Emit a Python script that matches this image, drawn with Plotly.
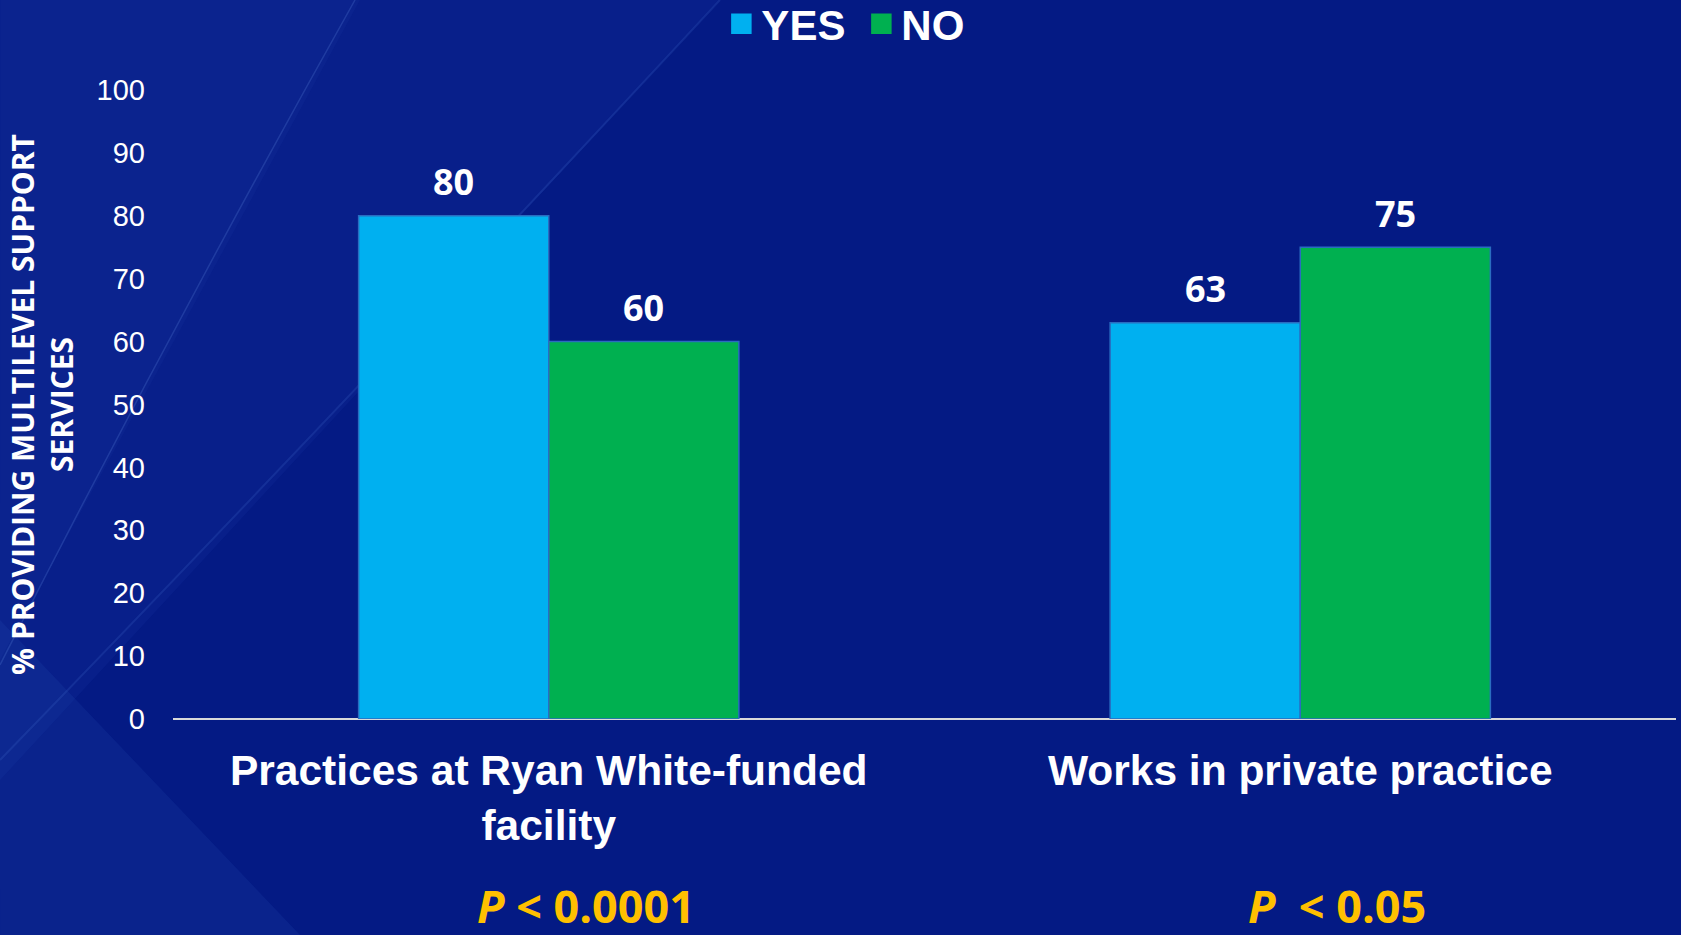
import plotly.graph_objects as go

# ---------------- data ----------------
categories = ["Practices at Ryan White-funded<br>facility", "Works in private practice"]
series_names = ["YES", "NO"]
yes_values = [80, 63]
no_values = [60, 75]
p_labels = ["<i>P</i> < 0.0001", "<i>P</i>&nbsp; < 0.05"]
y_tick_values = [0, 10, 20, 30, 40, 50, 60, 70, 80, 90, 100]
y_title = "% PROVIDING MULTILEVEL SUPPORT<br>SERVICES"

# ---------------- style ----------------
W, H = 1681, 935
M_L, M_R, M_T, M_B = 173, 5, 90, 216
PW, PH = W - M_L - M_R, H - M_T - M_B
colors = {"YES": "#00B0F0", "NO": "#00B050"}
BAR_GAP = 0.494
BG = "#041A84"

fig = go.Figure()
series_values = {"YES": yes_values, "NO": no_values}
for name in series_names:
    fig.add_trace(go.Bar(
        x=categories, y=series_values[name], name=name,
        marker=dict(color=colors[name], line=dict(color="#2A6CC0", width=1.5)),
        showlegend=False, hoverinfo="x+y+name",
    ))
    # legend proxy (square markers)
    fig.add_trace(go.Scatter(
        x=[None], y=[None], mode="markers", name=name,
        marker=dict(symbol="square", size=16, color=colors[name],
                    line=dict(color=colors[name], width=4.5)),
        showlegend=True,
    ))

# data labels positioned through the axes (offset to each bar of the group)
band_px = PW / len(categories)
bar_px = band_px * (1 - BAR_GAP) / len(series_names)
annotations = []
for si, name in enumerate(series_names):
    off = (si - (len(series_names) - 1) / 2) * bar_px
    for ci, cat in enumerate(categories):
        v = series_values[name][ci]
        annotations.append(dict(
            x=cat, y=v, xref="x", yref="y", text=f"<b>{v}</b>", showarrow=False,
            xshift=off, yshift=34, yanchor="middle",
            font=dict(family="Open Sans", size=36, color="white"),
        ))

# p-value annotations under each category
for ci, cat in enumerate(categories):
    annotations.append(dict(
        x=cat, y=-0.297, xref="x", yref="paper", text=f"<b>{p_labels[ci]}</b>",
        showarrow=False, xshift=37, yanchor="middle",
        font=dict(family="Open Sans", size=45, color="#FFC000"),
    ))

def px_to_paper(px, py):
    return (px - M_L) / PW, (M_T + PH - py) / PH

shapes = []
def poly(points, color):
    pts = [px_to_paper(*p) for p in points]
    path = "M " + " L ".join(f"{x:.4f},{y:.4f}" for x, y in pts) + " Z"
    shapes.append(dict(type="path", path=path, xref="paper", yref="paper",
                       fillcolor=color, line=dict(width=0), layer="below"))

def curve(points, color, width):
    pts = [px_to_paper(*p) for p in points]
    path = f"M {pts[0][0]:.4f},{pts[0][1]:.4f} Q {pts[1][0]:.4f},{pts[1][1]:.4f} {pts[2][0]:.4f},{pts[2][1]:.4f}"
    shapes.append(dict(type="path", path=path, xref="paper", yref="paper",
                       line=dict(color=color, width=width), layer="below"))

# subtle background shading (lighter toward the left)
poly([(0, 0), (720, 0), (0, 780)], "rgba(25,55,165,0.20)")
poly([(0, 0), (360, 0), (0, 660)], "rgba(30,65,170,0.12)")
poly([(0, 935), (0, 620), (300, 935)], "rgba(45,85,185,0.16)")
curve([(0, 665), (170, 330), (355, 0)], "rgba(90,130,220,0.25)", 1.5)
curve([(0, 760), (330, 420), (720, 0)], "rgba(80,120,215,0.18)", 2)

fig.update_layout(
    width=W, height=H,
    margin=dict(l=M_L, r=M_R, t=M_T, b=M_B, pad=0, autoexpand=False),
    paper_bgcolor=BG, plot_bgcolor="rgba(0,0,0,0)",
    barmode="group", bargap=BAR_GAP, bargroupgap=0,
    font=dict(family="Liberation Sans", color="white"),
    legend=dict(orientation="h", x=0.458, y=1.105, xanchor="center", yanchor="middle",
                font=dict(family="Liberation Sans", size=42, color="white", weight="bold"),
                bgcolor="rgba(0,0,0,0)", itemclick=False, itemdoubleclick=False,
                tracegroupgap=0, entrywidth=95, entrywidthmode="pixels"),
    annotations=annotations,
    shapes=shapes,
    showlegend=True,
)
fig.update_xaxes(
    showgrid=False, zeroline=False, showline=False, ticks="",
    tickfont=dict(family="Liberation Sans", size=42.5, color="white", weight="bold"),
    ticklabelstandoff=22,
)
fig.update_yaxes(
    range=[0, 100], tickvals=y_tick_values, showgrid=False,
    zeroline=True, zerolinecolor="#D9D9D9", zerolinewidth=2,
    showline=False, ticks="",
    tickfont=dict(family="Liberation Sans", size=29, color="white"),
    ticklabelstandoff=27,
    title=dict(text=f"<b>{y_title}</b>", standoff=14,
               font=dict(family="Open Sans", size=30, color="white")),
)

fig.write_html(
    "out.html",
    config={"displayModeBar": False},
    post_script="document.body.style.margin='0';document.body.style.overflow='hidden';",
)
